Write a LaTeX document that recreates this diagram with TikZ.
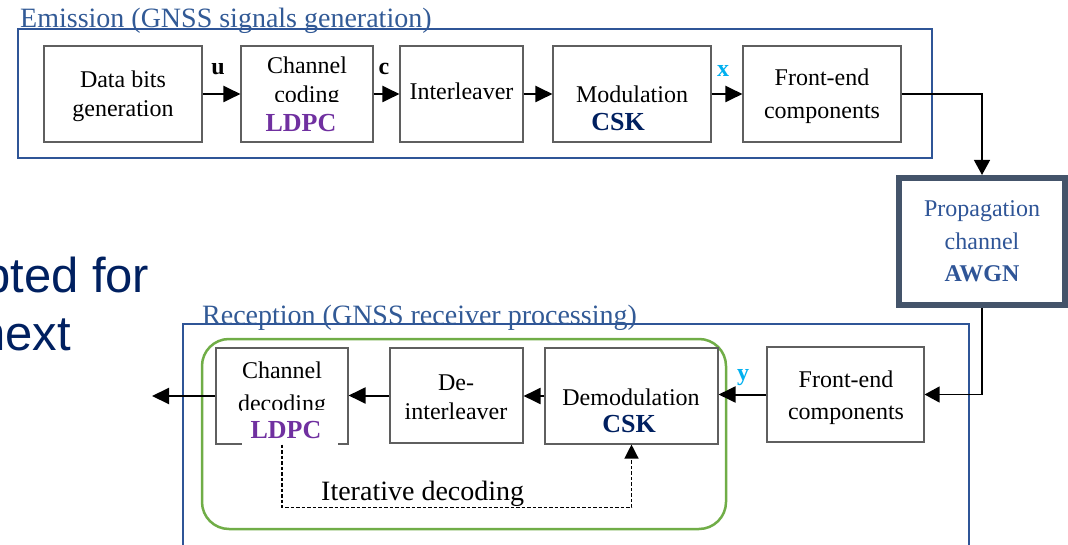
\documentclass[tikz,border=0pt]{standalone}
\usepackage{fontspec}
\setmainfont{Liberation Serif}
\newfontfamily\slidefont{Liberation Sans}
\usetikzlibrary{arrows.meta}

\definecolor{frameblue}{RGB}{47,85,151}
\definecolor{titleblue}{RGB}{50,90,150}
\definecolor{boxgray}{RGB}{95,95,95}
\definecolor{propframe}{RGB}{68,84,106}
\definecolor{loopgreen}{RGB}{112,173,71}
\definecolor{ldpcpurple}{RGB}{112,48,160}
\definecolor{csknavy}{RGB}{0,32,96}
\definecolor{sigcyan}{RGB}{0,176,240}
\definecolor{slidenavy}{RGB}{0,32,96}

\tikzset{
  block/.style={draw=boxgray, line width=1.1pt, fill=white, inner sep=0pt},
  frame/.style={draw=frameblue, line width=2.5pt, inner sep=0pt},
  txt/.style={font=\fontsize{24}{29}\selectfont, inner sep=0pt, anchor=base},
  bold/.style={font=\fontsize{24}{29}\selectfont\bfseries, inner sep=0pt, anchor=base},
  scheme/.style={font=\fontsize{26}{31}\selectfont\bfseries, inner sep=0pt, anchor=base},
  ttl/.style={font=\fontsize{28}{34}\selectfont, text=titleblue, inner sep=0pt, anchor=base west},
  slide/.style={font=\slidefont\fontsize{49}{58}\selectfont, text=slidenavy, inner sep=0pt, anchor=base west},
  flow/.style={line width=2pt, -{Triangle[length=17pt,width=16pt]}},
  link/.style={line width=1.3pt, -{Triangle[length=15pt,width=16pt]}},
  feedback/.style={line width=1.3pt, dash pattern=on 3.5pt off 2pt, -{Triangle[length=14pt,width=14pt]}},
}

\begin{document}
\begin{tikzpicture}[x=1pt, y=-1pt]
\path[use as bounding box] (0,0) rectangle (1068,545);

% slide text in the background
\node[slide] (s1) at (-17,293) {pted for};
\node[slide] (s2) at (-22,350) {next};

% ---------- emission chain ----------
\node[frame, minimum width=914pt, minimum height=129pt] (emis) at (475,93.5) {};
\node[ttl] (emis-t) at (20,28) {Emission (GNSS signals generation)};

\node[block, minimum width=158pt, minimum height=96pt] (data) at (123,94) {};
\node[txt] (data-1) at (123,88) {Data bits};
\node[txt] (data-2) at (123,117) {generation};

\node[block, minimum width=132pt, minimum height=96pt] (cc) at (307,94) {};
\node[txt] (cc-1) at (307,74) {Channel};
\node[txt] (cc-2) at (307,103) {coding};
\node[scheme, text=ldpcpurple, fill=white, text height=30pt, text depth=4pt,
      minimum width=90pt] (cc-3) at (301,132) {LDPC};

\node[block, minimum width=123pt, minimum height=96pt] (il) at (461.5,94) {};
\node[txt] (il-1) at (461.5,100) {Interleaver};

\node[block, minimum width=158pt, minimum height=96pt] (mod) at (632,94) {};
\node[txt] (mod-1) at (632,103) {Modulation};
\node[scheme, text=csknavy] (mod-2) at (618,131) {CSK};

\node[block, minimum width=158pt, minimum height=96pt] (fe) at (822,94) {};
\node[txt] (fe-1) at (822,86) {Front-end};
\node[txt] (fe-2) at (822,119) {components};

\draw[flow] (data) -- (cc);
\draw[flow] (cc) -- (il);
\draw[flow] (il) -- (mod);
\draw[flow] (mod) -- (fe);
\node[bold] (lu) at (218,75) {u};
\node[bold] (lc) at (384,75) {c};
\node[bold, text=sigcyan] (lx) at (723,77) {x};

% ---------- propagation channel ----------
\node[draw=propframe, line width=6pt, fill=white, inner sep=0pt,
      minimum width=166pt, minimum height=127pt] (prop) at (982,241.5) {};
\node[txt, text=frameblue] (prop-1) at (982,217) {Propagation};
\node[txt, text=frameblue] (prop-2) at (982,250) {channel};
\node[bold, text=frameblue] (prop-3) at (982,282) {AWGN};

\draw[link] (fe.east) -| (prop.north);

% ---------- reception chain ----------
\node[frame, minimum width=786pt, minimum height=246pt] (recp) at (576,447) {};
\node[ttl] (recp-t) at (202,324) {Reception (GNSS receiver processing)};

\node[draw=loopgreen, line width=2.5pt, rounded corners=27pt, inner sep=0pt,
      minimum width=524pt, minimum height=190pt] (iter) at (464,434) {};

\node[block, minimum width=132pt, minimum height=96pt] (cd) at (282,396) {};
\node[txt] (cd-1) at (282,378) {Channel};
\node[txt] (cd-2) at (282,411) {decoding};
\node[scheme, text=ldpcpurple, fill=white, text height=28pt, text depth=7pt,
      minimum width=96pt] (cd-3) at (290,438) {LDPC\hspace*{8pt}};

\node[block, minimum width=133pt, minimum height=95pt] (deint) at (456.5,395.5) {};
\node[txt] (deint-1) at (456,390) {De-};
\node[txt] (deint-2) at (456,419) {interleaver};

\node[block, minimum width=173pt, minimum height=96pt] (demod) at (631.5,396) {};
\node[txt] (demod-1) at (631,405) {Demodulation};
\node[scheme, text=csknavy] (demod-2) at (629,432) {CSK};

\node[block, minimum width=157pt, minimum height=95pt] (rfe) at (845.5,394.5) {};
\node[txt] (rfe-1) at (846,387) {Front-end};
\node[txt] (rfe-2) at (846,419) {components};

\draw[link] (prop.south) |- (rfe.east);
\draw[flow] (rfe.west) -- (rfe.west -| demod.east);
\draw[flow] (demod.west) -- (demod.west -| deint.east);
\draw[flow] (deint.west) -- (deint.west -| cd.east);
\coordinate (out) at (152,396);
\draw[flow] (cd.west) -- (out);
\node[bold, text=sigcyan] (ly) at (743,380) {y};

% iterative decoding loop
\draw[feedback] (cd.south) -- ++(0,63) -| (demod.south);
\node[font=\fontsize{28}{34}\selectfont, inner sep=0pt, anchor=base west] (itlab) at (321,500) {Iterative decoding};
\end{tikzpicture}
\end{document}
